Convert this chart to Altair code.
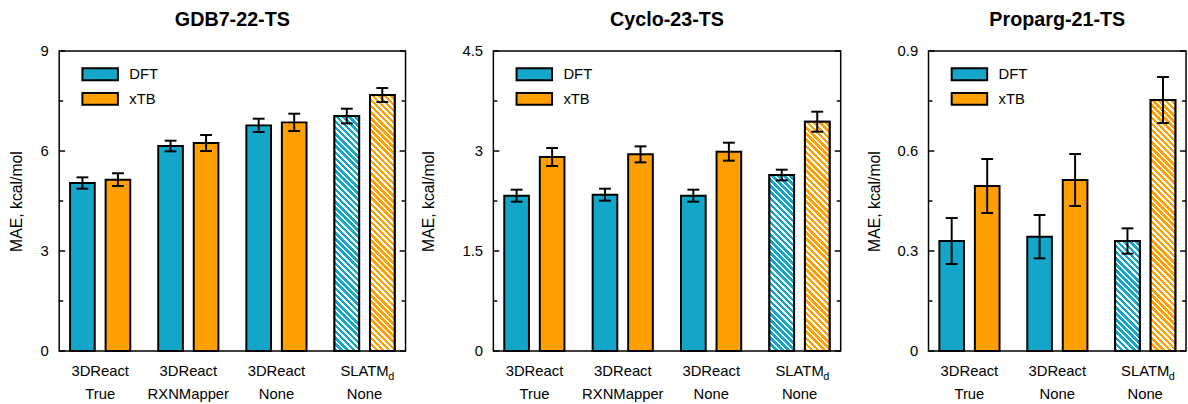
import math
import altair as alt
import pandas as pd

TEAL = "#13a6c9"
ORANGE = "#ff9f00"
FONT = "Liberation Sans"
H = 304

methods = ["DFT", "xTB"]

# ---- GDB7-22-TS ----
gdb_cats = ["3DReact|True", "3DReact|RXNMapper", "3DReact|None", "SLATM\u00a0|None"]
gdb_dft = [5.04, 6.15, 6.77, 7.05]
gdb_dft_err = [0.17, 0.16, 0.20, 0.22]
gdb_xtb = [5.14, 6.24, 6.86, 7.68]
gdb_xtb_err = [0.19, 0.24, 0.26, 0.21]
gdb_major = [0, 3, 6, 9]
gdb_minor = [1.5, 4.5, 7.5]

# ---- Cyclo-23-TS ----
cyc_cats = ["3DReact|True", "3DReact|RXNMapper", "3DReact|None", "SLATM\u00a0|None"]
cyc_dft = [2.33, 2.345, 2.33, 2.64]
cyc_dft_err = [0.09, 0.09, 0.09, 0.08]
cyc_xtb = [2.91, 2.95, 2.99, 3.44]
cyc_xtb_err = [0.135, 0.12, 0.135, 0.15]
cyc_major = [0, 1.5, 3, 4.5]
cyc_minor = [0.75, 2.25, 3.75]

# ---- Proparg-21-TS ----
pro_cats = ["3DReact|True", "3DReact|None", "SLATM\u00a0|None"]
pro_dft = [0.33, 0.343, 0.33]
pro_dft_err = [0.069, 0.065, 0.038]
pro_xtb = [0.495, 0.513, 0.753]
pro_xtb_err = [0.081, 0.078, 0.069]
pro_major = [0, 0.3, 0.6, 0.9]
pro_minor = [0.15, 0.45, 0.75]

HATCHED = "SLATM\u00a0|None"


def hatch(color, h, w=25.0, period=4.4, white=0.42):
    span = (w + h) / math.sqrt(2)
    n = max(1, round(span / period))
    d = w * w + h * h
    x2 = (w + h) * w / d
    y2 = 1 - (w + h) * h / d
    stops = []
    for i in range(n):
        a = i / n
        b = (i + 1 - white) / n
        c = (i + 1) / n
        stops += [
            alt.GradientStop(offset=a, color=color),
            alt.GradientStop(offset=b, color=color),
            alt.GradientStop(offset=b, color="white"),
            alt.GradientStop(offset=c, color="white"),
        ]
    return alt.LinearGradient(gradient="linear", stops=stops, x1=0, y1=1, x2=x2, y2=y2)


def panel(title, cats, dft, dfte, xtb, xtbe, major, minor, width, title_x):
    ymax = major[-1]
    rows = []
    for c, v, e in zip(cats, dft, dfte):
        rows.append({"cat": c, "method": "DFT", "v": v, "lo": v - e, "hi": v + e})
    for c, v, e in zip(cats, xtb, xtbe):
        rows.append({"cat": c, "method": "xTB", "v": v, "lo": v - e, "hi": v + e})
    df = pd.DataFrame(rows)

    xaxis = alt.Axis(
        title=None,
        labelExpr="split(datum.value, '|')",
        labelAngle=0,
        ticks=False,
        domain=False,
        labelFont=FONT,
        labelFontSize=15,
        labelLineHeight=23,
        labelPadding=13,
        labelColor="black",
    )
    xsc = alt.Scale(paddingInner=0.317, paddingOuter=0.1235)
    osc = alt.Scale(paddingInner=0.3056, paddingOuter=0)
    ysc = alt.Scale(domain=[0, ymax], nice=False, zero=True)
    yaxis = alt.Axis(
        title="MAE, kcal/mol",
        values=major,
        format=".2~f",
        ticks=False,
        domain=False,
        grid=False,
        labelFont=FONT,
        labelFontSize=15,
        labelPadding=11,
        labelColor="black",
        labelFlush=False,
        titleFont=FONT,
        titleFontSize=16,
        titleFontWeight="normal",
        titleColor="black",
        titleX=title_x,
        titleY=H / 2,
        titleBaseline="middle",
        titleAlign="center",
    )

    def X():
        return alt.X("cat:N", sort=cats, scale=xsc, axis=xaxis)

    def XO():
        return alt.XOffset("method:N", sort=methods, scale=osc)

    def Y(f):
        return alt.Y(f, scale=ysc, axis=yaxis)

    color = alt.Color(
        "method:N",
        scale=alt.Scale(domain=methods, range=[TEAL, ORANGE]),
        legend=alt.Legend(
            title=None,
            orient="none",
            legendX=34,
            legendY=16,
            symbolType="M-3,-1H3V1H-3Z",
            symbolSize=144,
            symbolStrokeColor="black",
            symbolStrokeWidth=2,
            symbolOpacity=1,
            labelFont=FONT,
            labelFontSize=15,
            labelColor="black",
            labelOffset=22,
            rowPadding=4,
            padding=0,
        ),
    )

    base = alt.Chart(df)
    bars = base.mark_bar(stroke="black", strokeWidth=2).encode(x=X(), xOffset=XO(), y=Y("v:Q"), color=color)

    layers = [bars]
    for m, col, vals in (("DFT", TEAL, dft), ("xTB", ORANGE, xtb)):
        v = vals[cats.index(HATCHED)]
        h = v / ymax * H
        layers.append(
            base.transform_filter((alt.datum.cat == HATCHED) & (alt.datum.method == m))
            .mark_bar(fill=hatch(col, h), stroke="black", strokeWidth=2)
            .encode(x=X(), xOffset=XO(), y=Y("v:Q"))
        )

    rule = base.mark_rule(color="black", strokeWidth=2).encode(
        x=X(), xOffset=XO(), y=Y("lo:Q"), y2="hi:Q"
    )
    cap_lo = base.mark_tick(color="black", thickness=2, size=12, opacity=1).encode(
        x=X(), xOffset=XO(), y=Y("lo:Q")
    )
    cap_hi = base.mark_tick(color="black", thickness=2, size=12, opacity=1).encode(
        x=X(), xOffset=XO(), y=Y("hi:Q")
    )
    layers += [rule, cap_lo, cap_hi]

    # subscript for SLATM_d
    sub = alt.Chart(pd.DataFrame({"cat": [HATCHED]})).mark_text(
        text="d", font=FONT, fontSize=11, align="left", baseline="alphabetic", dx=24, color="black"
    ).encode(x=X(), y=alt.value(H + 29))
    layers.append(sub)

    # inward ticks on both sides
    tmaj = pd.DataFrame({"v": major})
    tmin = pd.DataFrame({"v": minor})
    for tdf, ln in ((tmaj, 6), (tmin, 4)):
        for x0, x1 in ((0, ln), (width - ln, width)):
            layers.append(
                alt.Chart(tdf)
                .mark_rule(color="black", strokeWidth=1.5)
                .encode(y=Y("v:Q"), x=alt.value(x0), x2=alt.value(x1))
            )

    return alt.layer(*layers).properties(
        width=width,
        height=H,
        title=alt.TitleParams(
            title, font=FONT, fontSize=20, fontWeight="bold", offset=-2,
            baseline="alphabetic", anchor="middle", color="black",
        ),
    )


p1 = panel("GDB7-22-TS", gdb_cats, gdb_dft, gdb_dft_err, gdb_xtb, gdb_xtb_err, gdb_major, gdb_minor, 351, -43)
p2 = panel("Cyclo-23-TS", cyc_cats, cyc_dft, cyc_dft_err, cyc_xtb, cyc_xtb_err, cyc_major, cyc_minor, 352, -65.5)
p3 = panel("Proparg-21-TS", pro_cats, pro_dft, pro_dft_err, pro_xtb, pro_xtb_err, pro_major, pro_minor, 261, -54.5)

inner = alt.hconcat(p1, p2, spacing=12).resolve_scale(color="independent").resolve_legend(color="independent")
chart = (
    alt.hconcat(inner, p3, spacing=23)
    .resolve_scale(color="independent")
    .resolve_legend(color="independent")
    .properties(padding={"left": 8, "top": 7, "right": 0, "bottom": 0}, background="white")
    .configure_view(stroke="black", strokeWidth=1.5)
)

chart.save("out.html", embed_options={"renderer": "svg", "actions": False})
